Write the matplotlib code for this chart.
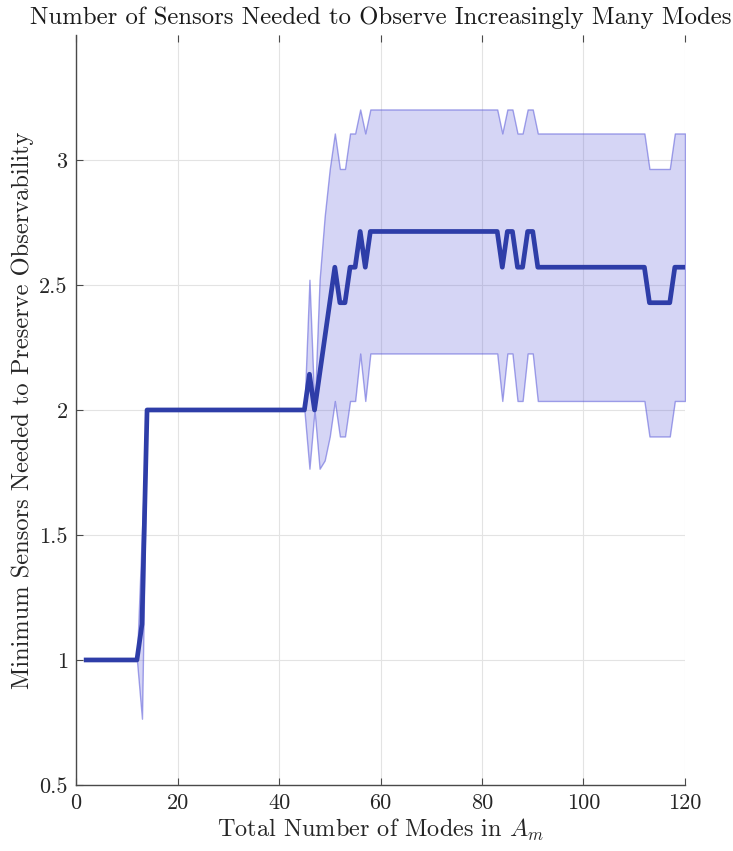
import matplotlib
matplotlib.use("Agg")
import matplotlib.pyplot as plt
import numpy as np

plt.rcParams['font.family'] = 'serif'
plt.rcParams['font.serif'] = ['cmr10', 'DejaVu Serif']
plt.rcParams['mathtext.fontset'] = 'cm'
plt.rcParams['axes.formatter.use_mathtext'] = True

# Number of modes in A_m (x axis)
modes = np.arange(2, 121)

# Mean minimum number of sensors (over trials)
mean_sensors = [
    1.0, 1.0, 1.0, 1.0, 1.0, 1.0, 1.0, 1.0, 1.0, 1.0, 1.0,          # 2-12
    1.143,                                                          # 13
    2.0, 2.0, 2.0, 2.0, 2.0, 2.0, 2.0, 2.0,                         # 14-21
    2.0, 2.0, 2.0, 2.0, 2.0, 2.0, 2.0, 2.0,                         # 22-29
    2.0, 2.0, 2.0, 2.0, 2.0, 2.0, 2.0, 2.0,                         # 30-37
    2.0, 2.0, 2.0, 2.0, 2.0, 2.0, 2.0, 2.0,                         # 38-45
    2.143, 2.0, 2.143, 2.286, 2.429, 2.571,                         # 46-51
    2.429, 2.429, 2.571, 2.571, 2.714, 2.571,                       # 52-57
    2.714, 2.714, 2.714, 2.714, 2.714, 2.714, 2.714, 2.714, 2.714,  # 58-66
    2.714, 2.714, 2.714, 2.714, 2.714, 2.714, 2.714, 2.714, 2.714,  # 67-75
    2.714, 2.714, 2.714, 2.714, 2.714, 2.714, 2.714, 2.714,         # 76-83
    2.571, 2.714, 2.714, 2.571, 2.571, 2.714, 2.714,                # 84-90
    2.571, 2.571, 2.571, 2.571, 2.571, 2.571, 2.571, 2.571,         # 91-98
    2.571, 2.571, 2.571, 2.571, 2.571, 2.571, 2.571, 2.571,         # 99-106
    2.571, 2.571, 2.571, 2.571, 2.571, 2.571,                       # 107-112
    2.429, 2.429, 2.429, 2.429, 2.429,                              # 113-117
    2.571, 2.571, 2.571,                                            # 118-120
]

# Standard deviation (band half-width)
std_sensors = [
    0.0, 0.0, 0.0, 0.0, 0.0, 0.0, 0.0, 0.0, 0.0, 0.0, 0.0,          # 2-12
    0.378,                                                          # 13
    0.0, 0.0, 0.0, 0.0, 0.0, 0.0, 0.0, 0.0,                         # 14-21
    0.0, 0.0, 0.0, 0.0, 0.0, 0.0, 0.0, 0.0,                         # 22-29
    0.0, 0.0, 0.0, 0.0, 0.0, 0.0, 0.0, 0.0,                         # 30-37
    0.0, 0.0, 0.0, 0.0, 0.0, 0.0, 0.0, 0.0,                         # 38-45
    0.378, 0.0, 0.378, 0.488, 0.535, 0.535,                         # 46-51
    0.535, 0.535, 0.535, 0.535, 0.488, 0.535,                       # 52-57
    0.488, 0.488, 0.488, 0.488, 0.488, 0.488, 0.488, 0.488, 0.488,  # 58-66
    0.488, 0.488, 0.488, 0.488, 0.488, 0.488, 0.488, 0.488, 0.488,  # 67-75
    0.488, 0.488, 0.488, 0.488, 0.488, 0.488, 0.488, 0.488,         # 76-83
    0.535, 0.488, 0.488, 0.535, 0.535, 0.488, 0.488,                # 84-90
    0.535, 0.535, 0.535, 0.535, 0.535, 0.535, 0.535, 0.535,         # 91-98
    0.535, 0.535, 0.535, 0.535, 0.535, 0.535, 0.535, 0.535,         # 99-106
    0.535, 0.535, 0.535, 0.535, 0.535, 0.535,                       # 107-112
    0.535, 0.535, 0.535, 0.535, 0.535,                              # 113-117
    0.535, 0.535, 0.535,                                            # 118-120
]

x_ticks = [0, 20, 40, 60, 80, 100, 120]
y_ticks = [0.5, 1, 1.5, 2, 2.5, 3]
y_tick_labels = ["0.5", "1", "1.5", "2", "2.5", "3"]

title = "Number of Sensors Needed to Observe Increasingly Many Modes"
x_label = "Total Number of Modes in $A_m$"
y_label = "Minimum Sensors Needed to Preserve Observability"

mean_arr = np.array(mean_sensors)
std_arr = np.array(std_sensors)
lower = mean_arr - std_arr
upper = mean_arr + std_arr

fig = plt.figure(figsize=(7.33, 8.51), dpi=100)
ax = fig.add_axes([0.1037, 0.0776, 0.8308, 0.8813])

band_rgb = (0.35, 0.35, 0.85)
ax.fill_between(modes, lower, upper, facecolor=band_rgb + (0.25,),
                edgecolor=band_rgb + (0.55,), linewidth=1.0, zorder=2)
ax.plot(modes, mean_arr, color='#2E3DA8', linewidth=3.4, zorder=3,
        solid_joinstyle='round')

ax.set_xlim(0, 120)
ax.set_ylim(0.5, 3.5)
ax.set_xticks(x_ticks)
ax.set_xticklabels([str(t) for t in x_ticks])
ax.set_yticks(y_ticks)
ax.set_yticklabels(y_tick_labels)

ax.grid(True, color='#e3e3e3', linewidth=0.8)
ax.set_axisbelow(True)

for s in ['top', 'right']:
    ax.spines[s].set_visible(False)
for s in ['left', 'bottom']:
    ax.spines[s].set_color('#4a4a4a')
    ax.spines[s].set_linewidth(1.0)

ax.tick_params(axis='both', direction='in', length=5, width=0.8,
               colors='#4a4a4a', labelcolor='#262626', labelsize=16, pad=6)
ax.tick_params(axis='x', top=True)

ax.set_title(title, fontsize=17.8, pad=8, color='#1a1a1a')
ax.set_xlabel(x_label, fontsize=17.5, labelpad=3, color='#262626')
ax.set_ylabel(y_label, fontsize=17.6, labelpad=4, color='#262626')

fig.savefig("out.png", dpi=100)
